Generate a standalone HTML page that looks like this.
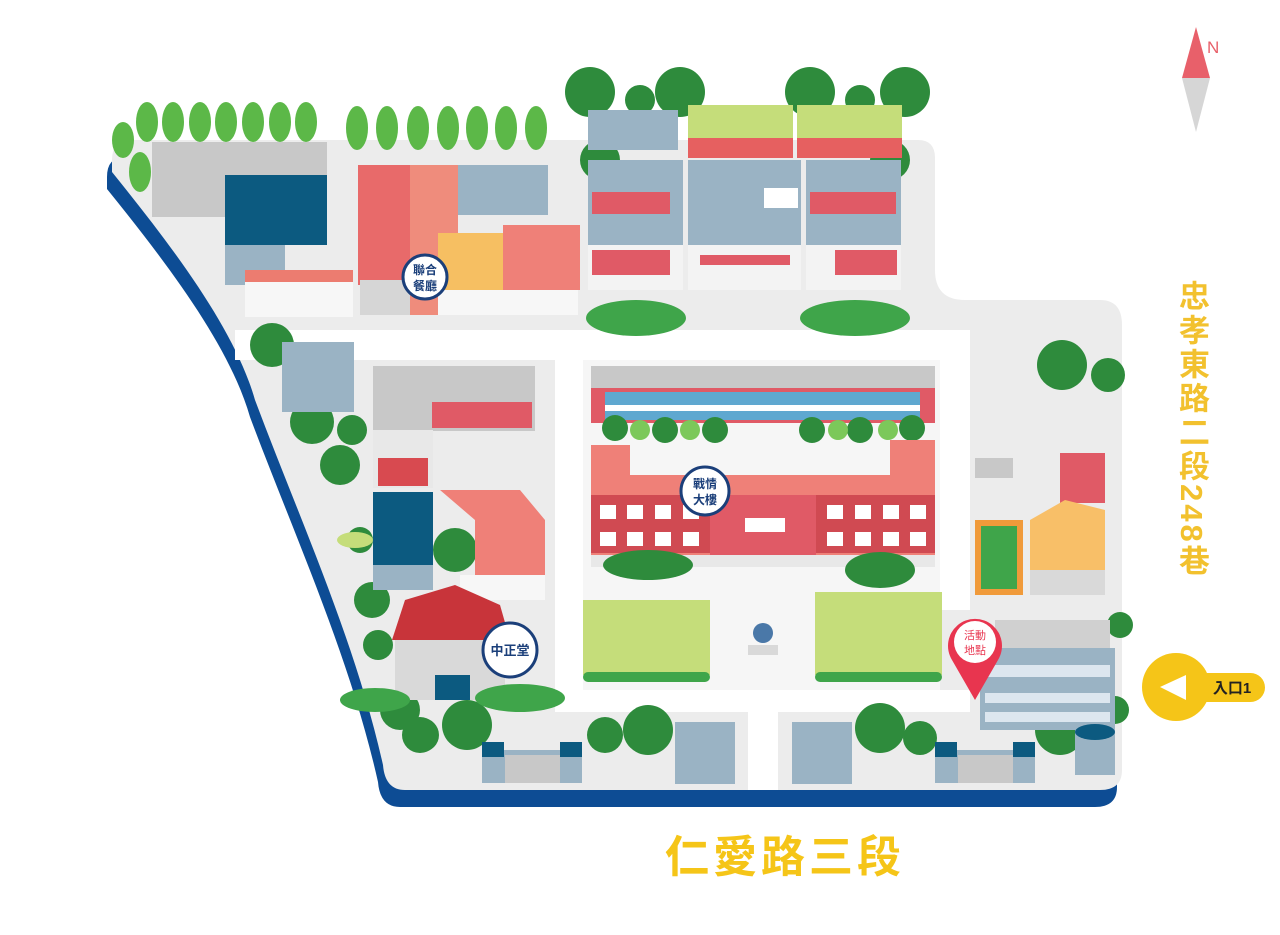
<!DOCTYPE html>
<html><head><meta charset="utf-8"><style>
html,body{margin:0;padding:0;background:#fff;width:1280px;height:935px;overflow:hidden}
svg{display:block}
.vt{position:absolute;left:1174px;top:280px;writing-mode:vertical-rl;font:bold 31px "Liberation Sans","Noto Sans CJK TC",sans-serif;color:#f2c12e;line-height:34px;letter-spacing:3px}
</style></head><body>
<div style="position:relative;width:1280px;height:935px">
<svg width="1280" height="935" viewBox="0 0 1280 935" font-family="Liberation Sans, Noto Sans CJK TC, sans-serif">
<defs>
<path id="base" d="M112,160 Q112,140 130,140 L918,140 Q935,140 935,158 L935,270 Q935,300 965,300 L1100,300 Q1122,300 1122,325 L1122,770 Q1122,790 1100,790 L405,790 Q385,790 383,765 C355,640 300,520 255,400 C235,330 175,250 112,172 Z"/>
</defs>
<use href="#base" transform="translate(-5,17)" fill="#0d4c94"/>
<use href="#base" fill="#ececec"/>
<!-- white roads -->
<rect x="235" y="330" width="735" height="30" fill="#fff"/>
<rect x="555" y="360" width="28" height="345" fill="#fff"/>
<rect x="940" y="330" width="30" height="280" fill="#fff"/>
<rect x="555" y="690" width="415" height="22" fill="#fff"/>
<rect x="748" y="705" width="30" height="85" fill="#fff"/>
<rect x="583" y="360" width="357" height="330" fill="#f6f6f6"/>
<!-- lawns -->
<rect x="583" y="600" width="127" height="75" fill="#c5dd7a"/>
<rect x="815" y="592" width="127" height="83" fill="#c5dd7a"/>
<!-- top row trees -->
<g fill="#5cb848">
<ellipse cx="123" cy="140" rx="11" ry="18"/><ellipse cx="147" cy="122" rx="11" ry="20"/><ellipse cx="173" cy="122" rx="11" ry="20"/><ellipse cx="200" cy="122" rx="11" ry="20"/><ellipse cx="226" cy="122" rx="11" ry="20"/><ellipse cx="253" cy="122" rx="11" ry="20"/><ellipse cx="280" cy="122" rx="11" ry="20"/><ellipse cx="306" cy="122" rx="11" ry="20"/><ellipse cx="140" cy="172" rx="11" ry="20"/>
<ellipse cx="357" cy="128" rx="11" ry="22"/><ellipse cx="387" cy="128" rx="11" ry="22"/><ellipse cx="418" cy="128" rx="11" ry="22"/><ellipse cx="448" cy="128" rx="11" ry="22"/><ellipse cx="477" cy="128" rx="11" ry="22"/><ellipse cx="506" cy="128" rx="11" ry="22"/><ellipse cx="536" cy="128" rx="11" ry="22"/>
</g>
<!-- NW buildings -->
<rect x="152" y="142" width="175" height="75" fill="#c8c8c8"/>
<rect x="225" y="175" width="102" height="70" fill="#0c5a80"/>
<rect x="225" y="245" width="60" height="40" fill="#9ab3c4"/>
<rect x="245" y="272" width="108" height="45" fill="#f7f7f7"/>
<rect x="245" y="270" width="108" height="12" fill="#ec7c70"/>
<!-- restaurant cluster -->
<rect x="358" y="165" width="100" height="120" fill="#e86a6a"/>
<rect x="410" y="165" width="48" height="150" fill="#ef8c7c"/>
<rect x="458" y="165" width="90" height="50" fill="#9ab3c4"/>
<rect x="438" y="233" width="65" height="60" fill="#f6bf62"/>
<rect x="503" y="225" width="77" height="65" fill="#ef8078"/>
<rect x="438" y="290" width="140" height="25" fill="#f7f7f7"/>
<rect x="360" y="280" width="50" height="35" fill="#d6d6d6"/>
<!-- top central buildings -->
<g fill="#2e8b3c">
<circle cx="590" cy="92" r="25"/><circle cx="680" cy="92" r="25"/><circle cx="810" cy="92" r="25"/><circle cx="905" cy="92" r="25"/><circle cx="600" cy="160" r="20"/><circle cx="890" cy="160" r="20"/><circle cx="640" cy="100" r="15"/><circle cx="860" cy="100" r="15"/>
</g>
<rect x="588" y="110" width="90" height="40" fill="#9ab3c4"/>
<rect x="688" y="105" width="105" height="35" fill="#c5dd7a"/>
<rect x="797" y="105" width="105" height="35" fill="#c5dd7a"/>
<rect x="688" y="138" width="105" height="20" fill="#e66060"/>
<rect x="797" y="138" width="105" height="20" fill="#e66060"/>
<rect x="588" y="160" width="95" height="130" fill="#9ab3c4"/>
<rect x="688" y="160" width="113" height="130" fill="#9ab3c4"/>
<rect x="806" y="160" width="95" height="130" fill="#9ab3c4"/>
<rect x="588" y="245" width="95" height="45" fill="#f3f3f3"/>
<rect x="688" y="245" width="113" height="45" fill="#f3f3f3"/>
<rect x="806" y="245" width="95" height="45" fill="#f3f3f3"/>
<rect x="764" y="188" width="34" height="20" fill="#fff"/>
<g fill="#e05a66"><rect x="592" y="192" width="78" height="22"/><rect x="810" y="192" width="86" height="22"/><rect x="592" y="250" width="78" height="25"/><rect x="835" y="250" width="62" height="25"/><rect x="700" y="255" width="90" height="10"/></g>
<g fill="#3fa54a"><ellipse cx="636" cy="318" rx="50" ry="18"/><ellipse cx="855" cy="318" rx="55" ry="18"/></g>
<!-- west trees -->
<g fill="#2e8b3c"><circle cx="272" cy="345" r="22"/><circle cx="312" cy="422" r="22"/><circle cx="340" cy="465" r="20"/><circle cx="352" cy="430" r="15"/><circle cx="360" cy="540" r="13"/><circle cx="372" cy="600" r="18"/><circle cx="378" cy="645" r="15"/><circle cx="455" cy="550" r="22"/><circle cx="400" cy="710" r="20"/><circle cx="422" cy="735" r="17"/><circle cx="467" cy="725" r="25"/></g>
<ellipse cx="355" cy="540" rx="18" ry="8" fill="#c5dd7a"/>
<rect x="282" y="342" width="72" height="70" fill="#9ab3c4"/>
<rect x="373" y="366" width="162" height="65" fill="#c8c8c8"/>
<rect x="432" y="402" width="100" height="26" fill="#e05a66"/>
<rect x="373" y="430" width="60" height="58" fill="#e8e8e8"/>
<rect x="378" y="458" width="50" height="28" fill="#d84a50"/>
<rect x="373" y="492" width="60" height="75" fill="#0c5a80"/>
<rect x="373" y="565" width="60" height="25" fill="#9ab3c4"/>
<path d="M440,490 L520,490 L545,520 L545,590 L475,590 L475,520 Z" fill="#ef8078"/>
<rect x="460" y="575" width="85" height="25" fill="#f7f7f7"/>
<!-- 中正堂 -->
<path d="M392,640 L405,600 L455,585 L500,605 L510,640 Z" fill="#c8343a"/>
<rect x="395" y="640" width="110" height="60" fill="#d9d9d9"/>
<rect x="435" y="675" width="35" height="25" fill="#0c5a80"/>
<g fill="#3fa54a"><ellipse cx="375" cy="700" rx="35" ry="12"/><ellipse cx="520" cy="698" rx="45" ry="14"/></g>
<!-- 戰情大樓 -->
<rect x="591" y="366" width="344" height="22" fill="#c8c8c8"/>
<rect x="591" y="388" width="344" height="35" fill="#e05a66"/>
<rect x="605" y="392" width="315" height="28" fill="#5fa8d0"/>
<rect x="605" y="405" width="315" height="6" fill="#fff"/>
<g fill="#2e8b3c"><circle cx="615" cy="428" r="13"/><circle cx="665" cy="430" r="13"/><circle cx="715" cy="430" r="13"/><circle cx="812" cy="430" r="13"/><circle cx="860" cy="430" r="13"/><circle cx="912" cy="428" r="13"/></g>
<g fill="#7cc85a"><circle cx="640" cy="430" r="10"/><circle cx="690" cy="430" r="10"/><circle cx="838" cy="430" r="10"/><circle cx="888" cy="430" r="10"/></g>
<path d="M591,445 L630,445 L630,475 L890,475 L890,440 L935,440 L935,555 L591,555 Z" fill="#ef8078"/>
<rect x="591" y="495" width="344" height="58" fill="#d04a52"/>
<rect x="710" y="495" width="106" height="62" fill="#e05a66"/>
<g fill="#fff"><rect x="600" y="505" width="16" height="14"/><rect x="627" y="505" width="16" height="14"/><rect x="655" y="505" width="16" height="14"/><rect x="683" y="505" width="16" height="14"/><rect x="827" y="505" width="16" height="14"/><rect x="855" y="505" width="16" height="14"/><rect x="883" y="505" width="16" height="14"/><rect x="910" y="505" width="16" height="14"/><rect x="600" y="532" width="16" height="14"/><rect x="627" y="532" width="16" height="14"/><rect x="655" y="532" width="16" height="14"/><rect x="683" y="532" width="16" height="14"/><rect x="827" y="532" width="16" height="14"/><rect x="855" y="532" width="16" height="14"/><rect x="883" y="532" width="16" height="14"/><rect x="910" y="532" width="16" height="14"/><rect x="745" y="518" width="40" height="14"/></g>
<rect x="591" y="555" width="344" height="12" fill="#e8e8e8"/>
<g fill="#2e8b3c"><ellipse cx="648" cy="565" rx="45" ry="15"/><ellipse cx="880" cy="570" rx="35" ry="18"/></g>
<g fill="#3fa54a"><rect x="583" y="672" width="127" height="10" rx="5"/><rect x="815" y="672" width="127" height="10" rx="5"/></g>
<circle cx="763" cy="633" r="10" fill="#4a78a8"/><rect x="748" y="645" width="30" height="10" fill="#d9d9d9"/>
<!-- east buildings -->
<g fill="#2e8b3c"><circle cx="1062" cy="365" r="25"/><circle cx="1108" cy="375" r="17"/><circle cx="1120" cy="625" r="13"/><circle cx="1060" cy="730" r="25"/><circle cx="1115" cy="710" r="14"/></g>
<rect x="975" y="458" width="38" height="20" fill="#c8c8c8"/>
<rect x="1060" y="453" width="45" height="50" fill="#e05a66"/>
<rect x="975" y="520" width="48" height="75" fill="#f09a3a"/>
<rect x="981" y="526" width="36" height="63" fill="#3fa54a"/>
<path d="M1030,520 L1065,500 L1105,510 L1105,590 L1030,590 Z" fill="#f8bf68"/>
<rect x="1030" y="570" width="75" height="25" fill="#d9d9d9"/>
<rect x="995" y="620" width="115" height="30" fill="#d0d0d0"/>
<rect x="980" y="648" width="135" height="82" fill="#9ab3c4"/>
<g fill="#dce6ef"><rect x="985" y="665" width="125" height="12"/><rect x="985" y="693" width="125" height="10"/><rect x="985" y="712" width="125" height="10"/></g>
<rect x="1075" y="730" width="40" height="45" fill="#9ab3c4"/><ellipse cx="1095" cy="732" rx="20" ry="8" fill="#0c5a80"/>
<!-- south trees and gates -->
<g fill="#2e8b3c"><circle cx="420" cy="735" r="18"/><circle cx="605" cy="735" r="18"/><circle cx="648" cy="730" r="25"/><circle cx="880" cy="728" r="25"/><circle cx="920" cy="738" r="17"/></g>
<g fill="#9ab3c4"><rect x="482" y="750" width="100" height="33"/><rect x="675" y="722" width="60" height="62"/><rect x="792" y="722" width="60" height="62"/><rect x="935" y="750" width="100" height="33"/></g>
<g fill="#0c5a80"><rect x="482" y="742" width="22" height="15"/><rect x="560" y="742" width="22" height="15"/><rect x="935" y="742" width="22" height="15"/><rect x="1013" y="742" width="22" height="15"/></g>
<g fill="#c8c8c8"><rect x="505" y="755" width="55" height="28"/><rect x="958" y="755" width="55" height="28"/></g>
<!-- labels -->
<g font-size="12" font-weight="bold" fill="#1b3f7a" text-anchor="middle">
<circle cx="425" cy="277" r="22" fill="#fff" stroke="#1b3f7a" stroke-width="3"/>
<text x="425" y="274">聯合</text><text x="425" y="290">餐廳</text>
<circle cx="705" cy="491" r="24" fill="#fff" stroke="#1b3f7a" stroke-width="3"/>
<text x="705" y="488">戰情</text><text x="705" y="504">大樓</text>
<circle cx="510" cy="650" r="27" fill="#fff" stroke="#1b3f7a" stroke-width="3"/>
<text x="510" y="655" font-size="13">中正堂</text>
</g>
<path d="M975,700 L952,660 A27,27 0 1 1 998,660 Z" fill="#e8354f"/>
<circle cx="975" cy="642" r="21" fill="#fff"/>
<g font-size="11" fill="#e8354f" text-anchor="middle"><text x="975" y="639">活動</text><text x="975" y="654">地點</text></g>
<!-- entrance -->
<rect x="1180" y="673" width="85" height="29" rx="14.5" fill="#f5c518"/>
<circle cx="1176" cy="687" r="34" fill="#f5c518"/>
<path d="M1160,687 L1186,675 L1186,700 Z" fill="#fff"/>
<text x="1232" y="693" font-size="15" font-weight="bold" fill="#222" text-anchor="middle">入口1</text>
<!-- compass -->
<path d="M1196,27 L1210,78 L1182,78 Z" fill="#e8606a"/>
<path d="M1182,78 L1210,78 L1196,132 Z" fill="#d6d6d6"/>
<text x="1207" y="53" font-size="17" fill="#e8606a">N</text>
<text x="785" y="872" font-size="44" font-weight="bold" fill="#f5c518" text-anchor="middle" letter-spacing="4">仁愛路三段</text>
</svg>
<div class="vt">忠孝東路二段248巷</div>
</div>
</body></html>
